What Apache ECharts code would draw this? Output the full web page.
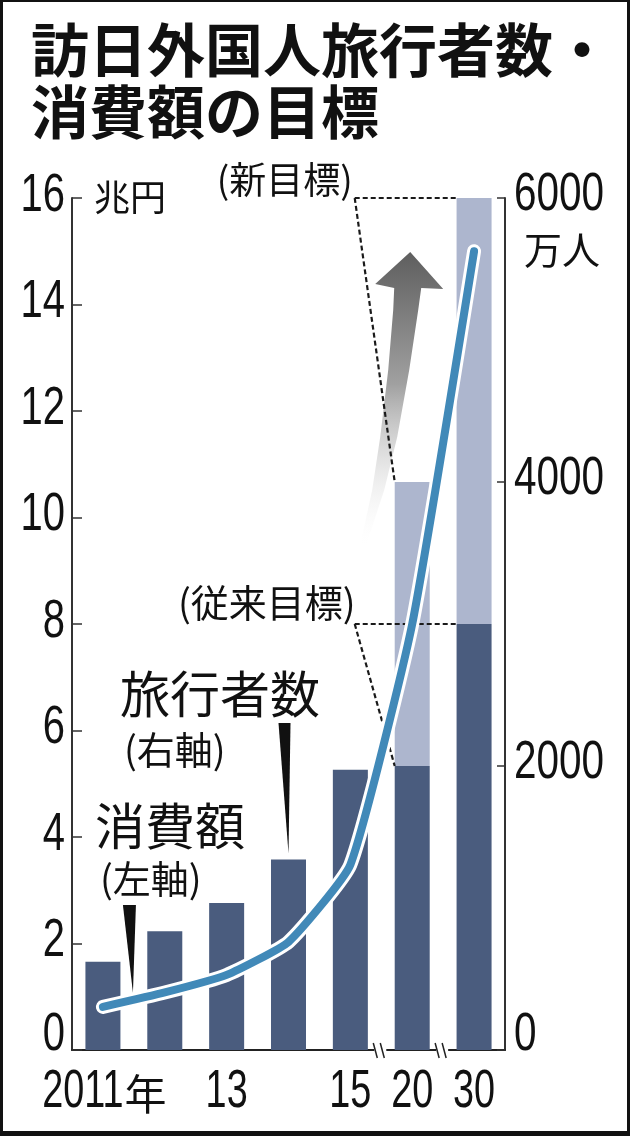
<!DOCTYPE html>
<html><head><meta charset="utf-8">
<script src="https://cdn.jsdelivr.net/npm/echarts@6/dist/echarts.min.js"></script>
<style>
html,body{margin:0;padding:0;background:#fff;}
#wrap{position:relative;width:630px;height:1136px;}
#chart{position:absolute;left:0;top:0;width:630px;height:1136px;}
#frame{position:absolute;left:0;top:0;width:630px;height:1136px;box-sizing:border-box;border-style:solid;border-color:#111;border-width:2px 3px 5px 3px;pointer-events:none;}
</style></head>
<body><div id="wrap"><div id="chart"></div><div id="frame"></div></div>
<script>
// ---- data ----
const categories = ['2011年', '12', '13', '14', '15', '20', '30'];
const tickLabels = ['2011年', '', '13', '', '15', '20', '30'];
const visitors   = [622, 836, 1036, 1341, 1974, null, null];   // 万人 (right axis)
const oldTarget  = [null, null, null, null, null, 2000, 3000]; // 従来目標 万人
const newTarget  = [null, null, null, null, null, 4000, 6000]; // 新目標 万人
const spending   = [0.81, 1.08, 1.41, 2.03, 3.48, 8, 15];      // 兆円 (left axis)
const leftTicks  = [0, 2, 4, 6, 8, 10, 12, 14, 16];
const rightTicks = [0, 2000, 4000, 6000];

const NUM = "'Liberation Sans',Arial,sans-serif";
const JP = "'Noto Sans CJK JP','Noto Sans CJK SC',sans-serif";
const DARK = '#4a5c7e', LIGHT = '#adb6ce', BLUE = '#4189b8';

const darkBars = visitors.map((v, i) => v != null ? v : oldTarget[i]);
const lightBars = newTarget.map((v, i) => v != null ? v - oldTarget[i] : null);

const chart = echarts.init(document.getElementById('chart'), null, {renderer: 'canvas'});
const axisCommon = {
  axisLine: {show: true, lineStyle: {color: '#333', width: 2}},
  axisLabel: {show: false},
  splitLine: {show: false}
};
const option = {
  animation: false,
  backgroundColor: '#fff',
  title: {
    text: '訪日外国人旅行者数・\n消費額の目標',
    left: 26, top: 14,
    textStyle: {fontFamily: JP, fontWeight: 'bold', fontSize: 58, lineHeight: 62, color: '#111'}
  },
  grid: {left: 72, right: 125, top: 198, bottom: 86, outerBoundsMode: 'none', containLabel: false},
  xAxis: {
    type: 'category', data: categories, boundaryGap: true,
    axisLine: {lineStyle: {color: '#222', width: 2}},
    axisTick: {show: false},
    axisLabel: {show: false}
  },
  yAxis: [
    Object.assign({
      type: 'value', min: leftTicks[0], max: leftTicks[leftTicks.length - 1], interval: leftTicks[1] - leftTicks[0], position: 'left',
      axisTick: {show: true, inside: true, length: 10, lineStyle: {color: '#333', width: 1.5}}
    }, axisCommon),
    Object.assign({
      type: 'value', min: rightTicks[0], max: rightTicks[rightTicks.length - 1], interval: rightTicks[1] - rightTicks[0], position: 'right',
      axisTick: {show: true, inside: true, length: 8, lineStyle: {color: '#333', width: 1.5}}
    }, axisCommon)
  ],
  series: [
    {type: 'bar', name: '旅行者数', yAxisIndex: 1, stack: 'v', barWidth: 35, data: darkBars,
     itemStyle: {color: DARK}, z: 2},
    {type: 'bar', name: '新目標', yAxisIndex: 1, stack: 'v', barWidth: 35, data: lightBars,
     itemStyle: {color: LIGHT}, z: 2},
    {type: 'line', name: 'halo', yAxisIndex: 0, data: spending, smooth: 0.15, symbol: 'none',
     lineStyle: {color: '#fff', width: 14, cap: 'round', join: 'round'}, z: 5},
    {type: 'line', name: '消費額', yAxisIndex: 0, data: spending, smooth: 0.15, symbol: 'none',
     lineStyle: {color: BLUE, width: 8, cap: 'round', join: 'round'}, z: 6}
  ]
};
chart.setOption(option);

// ---- annotations derived from the axes ----
const P = (i, v, ax) => chart.convertToPixel({xAxisIndex: 0, yAxisIndex: ax}, [i, v]);
const half = 17.5;
const i20 = 5, i30 = 6;
const n20 = P(i20, newTarget[i20], 1), n30 = P(i30, newTarget[i30], 1);
const o20 = P(i20, oldTarget[i20], 1), o30 = P(i30, oldTarget[i30], 1);
const ax = n20[0] - half - 40;
const dash = {stroke: '#1a1a1a', lineWidth: 2.2, lineDash: [5, 3]};
const g = [];

// condensed numeric tick labels (text scaled horizontally)
const NFS = 54, SX = 0.74;
const mctx = document.createElement('canvas').getContext('2d');
const numText = (t, x, y, align, sx) => ({type: 'text', z: 10, x: x, y: y, scaleX: sx || SX,
  style: {text: t, fontFamily: NUM, fontSize: NFS, fill: '#111', textAlign: align, textVerticalAlign: 'middle'}});
const leftX = P(0, 0, 0)[0] - half * 0 ; // category center (unused)
const yAxisLeftX = chart.convertToPixel({gridIndex: 0}, [0, 0]);
const gridRect = chart.getModel().getComponent('grid').coordinateSystem.getRect();
leftTicks.forEach(v => {
  const y = P(0, v, 0)[1] + (v === 0 ? -15 : -2);
  g.push(numText(String(v), gridRect.x - 7, y, 'right'));
});
rightTicks.forEach(v => {
  const y = P(0, v, 1)[1] + (v === 0 ? -15 : -3);
  g.push(numText(String(v), gridRect.x + gridRect.width + 9, y, 'left', 0.75));
});
// x tick labels
const XSX = 0.70;
mctx.font = NFS + 'px ' + NUM;
tickLabels.forEach((t, i) => {
  if (!t) return;
  const m = t.match(/^(\d+)(.*)$/);
  const num = m[1], suf = m[2];
  const w1 = mctx.measureText(num).width * XSX;
  const w2 = suf ? 40 : 0;
  const cx = P(i, 0, 0)[0];
  const y = 1092;
  const x0 = cx - (w1 + w2) / 2;
  g.push(numText(num, x0, y, 'left', XSX));
  if (suf) g.push({type: 'text', z: 10, x: x0 + w1 + 1, y: y + 2,
    style: {text: suf, fontFamily: JP, fontSize: 42, fill: '#111', textAlign: 'left', textVerticalAlign: 'middle'}});
});

// gradient arrow
const c = n20[0];
const arrowPts = [[c - 2, 252], [c + 31, 289], [c + 9, 288], [c + 6, 310], [c - 3, 370], [c - 15, 437], [c - 28, 490], [c - 46, 545],
  [c - 52, 545], [c - 40, 490], [c - 32, 437], [c - 24, 370], [c - 19, 310], [c - 18, 288], [c - 37, 284]];
g.push({type: 'polygon', z: 3, shape: {points: arrowPts}, style: {
  fill: new echarts.graphic.LinearGradient(0, 0, 0, 1, [
    {offset: 0, color: '#5e5e5e'}, {offset: 0.45, color: '#a0a0a0'}, {offset: 1, color: 'rgba(255,255,255,0.1)'}])}});
// dashed leader lines
g.push({type: 'line', z: 4, shape: {x1: ax, y1: n30[1], x2: n30[0] - half, y2: n30[1]}, style: dash});
g.push({type: 'line', z: 4, shape: {x1: ax, y1: n30[1], x2: n20[0] - half, y2: n20[1]}, style: dash});
g.push({type: 'line', z: 4, shape: {x1: ax, y1: o30[1], x2: o30[0] - half, y2: o30[1]}, style: dash});
g.push({type: 'line', z: 4, shape: {x1: ax, y1: o30[1], x2: o20[0] - half, y2: o20[1]}, style: dash});
// texts
const txt = (t, x, y, size, align) => ({type: 'text', z: 10, x: x, y: y,
  style: {text: t, fontFamily: JP, fontSize: size, fill: '#111', textAlign: align || 'left', textVerticalAlign: 'middle'}});
g.push(txt('(新目標)', ax - 2, n30[1] - 18, 37, 'right'));
g.push(txt('(従来目標)', ax + 1, o30[1] - 21, 38, 'right'));
g.push(txt('兆円', 94, 197, 36));
const r0 = P(i30, rightTicks[rightTicks.length - 1], 1);
g.push(txt('万人', 524, r0[1] + 52, 38));
g.push(txt('旅行者数', 120, 694, 50));
g.push(txt('(右軸)', 124, 750, 38));
g.push(txt('消費額', 95, 826, 50));
g.push(txt('(左軸)', 100, 879, 38));
// pointer wedges
const b14 = P(3, visitors[3], 1);
g.push({type: 'polygon', z: 10, shape: {points: [[b14[0] - 10, 723], [b14[0] + 2, 723], [b14[0], b14[1] - 6]]}, style: {fill: '#111'}});
const l11 = P(0, spending[0], 0);
g.push({type: 'polygon', z: 10, shape: {points: [[l11[0] + 20, 905], [l11[0] + 33, 905], [l11[0] + 30, l11[1] - 14]]}, style: {fill: '#111'}});
// axis break marks
const base = P(0, 0, 0)[1];
[[4, 5], [5, 6]].forEach(([a, b]) => {
  const x = (P(a, 0, 0)[0] + P(b, 0, 0)[0]) / 2;
  g.push({type: 'rect', z: 9, shape: {x: x - 7, y: base - 3, width: 12, height: 6}, style: {fill: '#fff'}});
  g.push({type: 'line', z: 10, shape: {x1: x - 8, y1: base - 7, x2: x - 4, y2: base + 8}, style: {stroke: '#222', lineWidth: 1.5}});
  g.push({type: 'line', z: 10, shape: {x1: x - 1, y1: base - 7, x2: x + 3, y2: base + 8}, style: {stroke: '#222', lineWidth: 1.5}});
});
chart.setOption({graphic: g});
</script></body></html>
